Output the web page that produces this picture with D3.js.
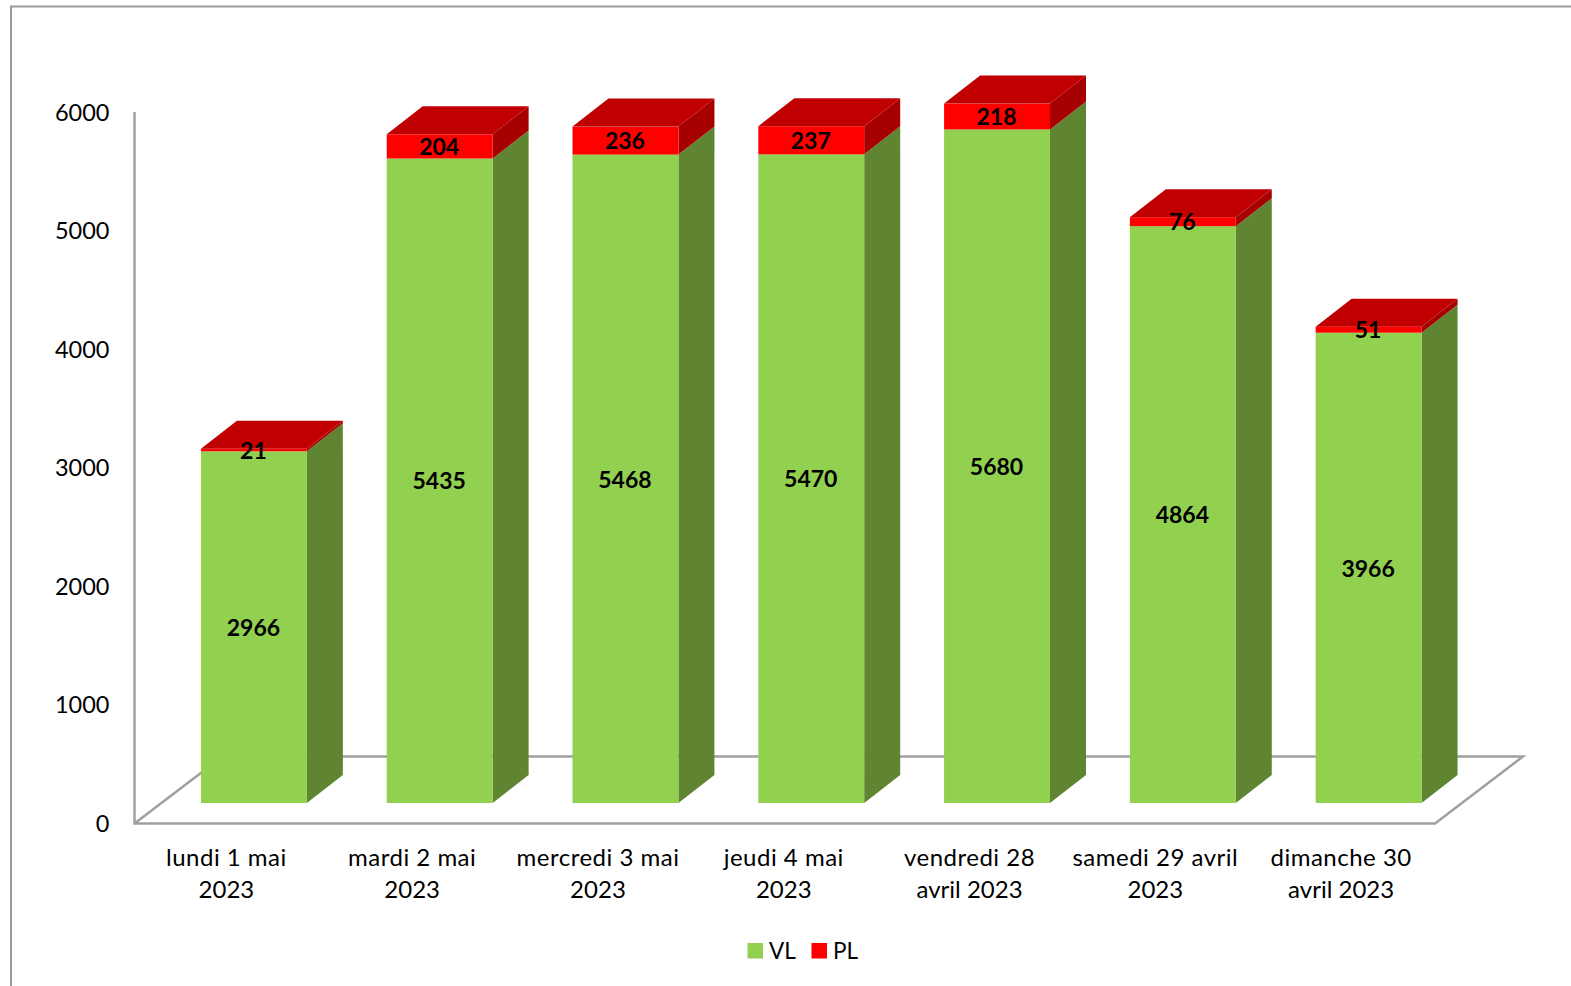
<!DOCTYPE html>
<html>
<head>
<meta charset="utf-8">
<script src="https://cdn.jsdelivr.net/npm/d3@7"></script>
<style>
    html, body { margin: 0; padding: 0; background: #fff; }
    svg { display: block; }
    text { font-family: Lato, "Open Sans", sans-serif; fill: #000; }
</style>
</head>
<body>
<svg id="chart"></svg>
<script>
const categories = ["lundi 1 mai 2023", "mardi 2 mai 2023", "mercredi 3 mai 2023", "jeudi 4 mai 2023", "vendredi 28 avril 2023", "samedi 29 avril 2023", "dimanche 30 avril 2023"];
const categoryLines = [["lundi 1 mai", "2023"], ["mardi 2 mai", "2023"], ["mercredi 3 mai", "2023"], ["jeudi 4 mai", "2023"], ["vendredi 28", "avril 2023"], ["samedi 29 avril", "2023"], ["dimanche 30", "avril 2023"]];
const vl = [2966, 5435, 5468, 5470, 5680, 4864, 3966];
const pl = [21, 204, 236, 237, 218, 76, 51];
const yTicks = [0, 1000, 2000, 3000, 4000, 5000, 6000];
const seriesNames = ["VL", "PL"];

const width = 1571, height = 986;

// floor corners of the fake 3d box
const left = 134.5, right = 1435, base = 823.5, top6000 = 112;
const floorDx = 88, floorDy = 67;
// how far the bars sit back from the front edge, and their own depth
const barShiftX = 26.5, barShiftY = 20.5;
const barDx = 36, barDy = 28;

const colors = {
    VL: { front: "#92d050", side: "#5f8532" },
    PL: { front: "#ff0000", side: "#a60000", top: "#c00000" }
};

const svg = d3.select("#chart").attr("width", width).attr("height", height);

const x = d3.scaleBand().domain(categories).range([left, right]).paddingInner(0.43).paddingOuter(0.215);
const y = d3.scaleLinear().domain([0, 6000]).range([base, top6000]);

// frame
svg.append("path")
    .attr("d", `M11,${height}V6.5H${width}`)
    .attr("fill", "none")
    .attr("stroke", "#9a9a9a")
    .attr("stroke-width", 2);

// floor and axis line
svg.append("path")
    .attr("d", `M${left},${top6000}V${base}H${right}L${right + floorDx},${base - floorDy}H${left + floorDx}L${left},${base}`)
    .attr("fill", "none")
    .attr("stroke", "#a0a0a0")
    .attr("stroke-width", 2.5);

const stack = d3.stack().keys(seriesNames)(categories.map((c, i) => ({ cat: c, VL: vl[i], PL: pl[i] })));

const poly = pts => pts.map(p => p.join(",")).join(" ");

const bars = svg.append("g").attr("transform", `translate(${barShiftX},${-barShiftY})`);

stack.forEach(s => {
    const g = bars.append("g");
    const col = colors[s.key];
    g.selectAll("polygon.side").data(s).join("polygon")
        .attr("class", "side")
        .attr("fill", col.side)
        .attr("points", d => {
            const xr = x(d.data.cat) + x.bandwidth();
            return poly([[xr, y(d[0])], [xr + barDx, y(d[0]) - barDy], [xr + barDx, y(d[1]) - barDy], [xr, y(d[1])]]);
        });
    g.selectAll("rect").data(s).join("rect")
        .attr("x", d => x(d.data.cat))
        .attr("y", d => y(d[1]))
        .attr("width", x.bandwidth())
        .attr("height", d => y(d[0]) - y(d[1]))
        .attr("fill", col.front);
    if (col.top) {
        g.selectAll("polygon.top").data(s).join("polygon")
            .attr("class", "top")
            .attr("fill", col.top)
            .attr("points", d => {
                const xl = x(d.data.cat), xr = xl + x.bandwidth(), yt = y(d[1]);
                return poly([[xl, yt], [xl + barDx, yt - barDy], [xr + barDx, yt - barDy], [xr, yt]]);
            });
    }
});

// data labels, centred on each front face
stack.forEach(s => {
    bars.append("g").selectAll("text").data(s).join("text")
        .attr("x", d => x(d.data.cat) + x.bandwidth() / 2 - 0.5)
        .attr("y", d => y((d[0] + d[1]) / 2))
        .attr("dy", "0.38em")
        .attr("text-anchor", "middle")
        .attr("font-size", 23)
        .attr("font-weight", 700)
        .text(d => d[1] - d[0]);
});

// axes
const yAxis = svg.append("g")
    .attr("transform", `translate(${left},0)`)
    .call(d3.axisLeft(y).tickValues(yTicks).tickSize(0).tickPadding(25).tickFormat(d3.format("d")));
yAxis.select(".domain").remove();
yAxis.selectAll("text").attr("font-size", 23.5).attr("font-family", null).attr("dy", "0.34em");

const xAxis = svg.append("g")
    .attr("transform", `translate(-1,${base})`)
    .call(d3.axisBottom(x).tickSize(0).tickFormat(""));
xAxis.select(".domain").remove();
xAxis.selectAll(".tick text").remove();
xAxis.selectAll(".tick").append("text")
    .attr("text-anchor", "middle")
    .attr("font-size", 24)
    .selectAll("tspan")
    .data((d, i) => categoryLines[i])
    .join("tspan")
    .attr("x", 0)
    .attr("y", (d, i) => 42 + i * 32)
    .attr("letter-spacing", (d, i) => i === 0 ? 0.5 : 0)
    .text(d => d);

// legend
const legendX = d3.scalePoint().domain(seriesNames).range([747.5, 811.5]);
const legend = svg.append("g").selectAll("g").data(seriesNames).join("g")
    .attr("transform", d => `translate(${legendX(d)},943)`);
legend.append("rect")
    .attr("width", 15.5)
    .attr("height", 15.5)
    .attr("fill", d => colors[d].front);
legend.append("text")
    .attr("x", 21.5)
    .attr("y", 8)
    .attr("dy", "0.36em")
    .attr("font-size", 22.5)
    .text(d => d);
</script>
</body>
</html>
